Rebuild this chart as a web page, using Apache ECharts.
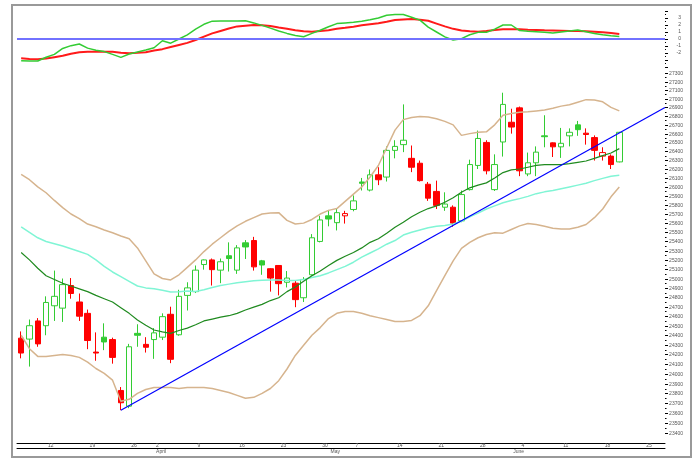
<!DOCTYPE html>
<html><head><meta charset="utf-8">
<script src="https://cdn.jsdelivr.net/npm/echarts@6/dist/echarts.min.js"></script>
<style>html,body{margin:0;padding:0;background:#fff}#c{width:697px;height:459px}</style>
</head><body><div id="c"></div>
<script>
// ---- categories (trading days, plus a few empty future days) ----
const dates = ['3/7','3/8','3/9','3/12','3/13','3/14','3/15','3/16','3/19','3/20','3/21','3/22','3/23','3/26','3/27','3/28',
'4/2','4/3','4/4','4/5','4/6','4/9','4/10','4/11','4/12','4/13','4/16','4/17','4/18','4/19','4/20','4/23','4/24','4/25','4/26','4/27','4/30',
'5/2','5/3','5/4','5/7','5/8','5/9','5/10','5/11','5/14','5/15','5/16','5/17','5/18','5/21','5/22','5/23','5/24','5/25','5/28','5/29','5/30','5/31',
'6/1','6/4','6/5','6/6','6/7','6/8','6/11','6/12','6/13','6/14','6/15','6/18','6/19','6/20',
'6/21','6/22','6/25','6/26','6/27'];
const weekStarts = ['3/12','3/19','3/26','4/2','4/9','4/16','4/23','4/30','5/7','5/14','5/21','5/28','6/4','6/11','6/18','6/25'];
const monthStarts = {'4/2':'April','5/2':'May','6/1':'June'};

// ---- price data ----
const open = [24370,24360,24550,24500,24710,24685,24925,24750,24630,24225,
24380,24355,23830,23670,24420,24305,24355,24380,24620,24405,
24820,24860,25150,25200,25090,25245,25090,25385,25410,25190,
25105,25140,24960,24950,24795,25040,25400,25680,25605,25680,
25750,26055,25965,26135,26110,26410,26475,26320,26265,26030,
25950,25775,25775,25625,25970,26240,26500,25970,26505,26730,
26895,26145,26270,26575,26495,26450,26575,26700,26605,26555,
26345,26345,26280];
const close = [24215,24500,24310,24745,24810,24935,24840,24600,24345,24215,
24330,24170,23705,24280,24400,24275,24425,24595,24150,24810,
24900,25090,25200,25095,25180,25215,25330,25340,25125,25145,
25005,24945,25005,24775,24990,25440,25635,25645,25715,25705,
25845,26040,26135,26080,26410,26455,26525,26220,26070,25875,
25795,25810,25600,25915,26250,26545,26180,26250,26935,26675,
26180,26270,26390,26565,26450,26490,26615,26645,26590,26410,
26385,26250,26615];
const low = [24160,24075,24280,24400,24550,24540,24785,24550,24255,24135,
24245,24105,23630,23650,24280,24220,24155,24350,24110,24395,
24660,24845,25095,24925,24950,25075,25050,25210,25085,25040,
24860,24820,24905,24695,24750,25030,25390,25565,25520,25595,
25730,25960,25950,26020,26060,26320,26390,26165,26060,25845,
25755,25735,25560,25610,25960,26200,26140,25955,26340,26600,
26120,26120,26120,26445,26335,26325,26455,26575,26475,26295,
26295,26200,26275];
const high = [24440,24565,24580,24810,25085,25000,25005,24840,24670,24430,
24525,24375,23865,24310,24515,24380,24475,24630,24700,24880,
24960,25140,25205,25215,25215,25390,25360,25415,25450,25200,
25110,25145,25080,24980,25015,25480,25680,25745,25755,25735,
25905,26100,26195,26220,26455,26525,26935,26465,26295,26055,
26070,25940,25795,25960,26305,26635,26525,26365,27070,26885,
26910,26385,26455,26810,26500,26665,26660,26745,26660,26580,
26445,26365,26620];

// ---- overlays ----
const bbUpper = [26140,26080,26000,25935,25850,25770,25700,25650,25590,25560,
25525,25495,25460,25430,25330,25190,25050,25000,24985,25040,
25120,25200,25290,25370,25440,25510,25570,25620,25660,25700,
25712,25715,25630,25590,25600,25640,25700,25740,25760,25840,
25920,26000,26110,26240,26440,26640,26760,26785,26795,26790,
26770,26740,26700,26580,26600,26615,26620,26700,26810,26830,
26845,26850,26860,26870,26890,26915,26930,26960,26990,26985,
26965,26900,26860];
const bbLower = [24400,24260,24180,24180,24190,24200,24190,24170,24120,24055,
24005,23935,23720,23740,23800,23840,23860,23860,23860,23850,
23860,23860,23860,23850,23830,23810,23780,23750,23760,23800,
23850,23930,24050,24190,24295,24400,24480,24575,24630,24650,
24650,24630,24605,24585,24565,24545,24545,24555,24605,24710,
24870,25030,25190,25325,25390,25440,25475,25495,25490,25530,
25570,25595,25585,25565,25545,25535,25535,25555,25585,25660,
25755,25890,26000];
const maGreen = [25280,25200,25110,25030,24990,24950,24920,24890,24860,24820,
24785,24750,24690,24630,24560,24505,24455,24435,24420,24450,
24475,24510,24550,24570,24590,24605,24630,24665,24695,24725,
24765,24795,24860,24910,24970,25030,25080,25140,25195,25240,
25280,25330,25390,25430,25490,25555,25610,25670,25720,25760,
25790,25830,25880,25940,25990,26020,26045,26100,26160,26190,
26200,26220,26240,26250,26250,26250,26260,26275,26290,26320,
26350,26380,26430];
const maCyan = [25560,25500,25440,25400,25375,25350,25320,25290,25260,25200,
25130,25070,25020,24970,24920,24900,24890,24875,24855,24860,
24868,24862,24880,24905,24925,24940,24955,24965,24975,24982,
24985,24983,24980,24980,24990,25010,25030,25060,25095,25130,
25175,25230,25275,25320,25370,25410,25470,25500,25525,25550,
25565,25575,25590,25620,25670,25710,25755,25790,25825,25850,
25870,25895,25925,25945,25960,25980,26000,26020,26040,26070,
26095,26120,26130];
// trendline anchors: [category position, price]
const trendX = [12, 77.5];
const trendY = [23630, 26900];

// ---- indicator panel ----
const indGreen = [-3.1,-3.15,-3.15,-2.6,-2.2,-1.35,-0.95,-0.71,-1.3,-1.62,
-1.8,-2.2,-2.62,-2.15,-1.85,-1.57,-1.25,-0.25,-0.6,0.0,
0.6,1.4,2.1,2.55,2.57,2.57,2.57,2.6,2.3,1.95,
1.55,1.15,0.8,0.5,0.33,0.8,1.25,1.75,2.2,2.3,
2.38,2.55,2.75,3.0,3.4,3.5,3.5,3.1,2.7,1.7,
1.0,0.3,-0.15,0.05,0.6,0.95,0.95,1.4,2.0,2.0,
1.2,1.1,1.05,0.95,0.85,1.0,1.15,1.3,1.05,0.8,
0.6,0.45,0.35];
const indRed = [-2.76,-2.85,-2.9,-2.8,-2.6,-2.4,-2.1,-1.9,-1.83,-1.81,
-1.81,-1.82,-1.95,-2.05,-1.98,-1.9,-1.65,-1.45,-1.15,-0.85,
-0.55,-0.15,0.33,0.8,1.15,1.5,1.8,1.9,2.0,1.95,
1.86,1.65,1.45,1.25,1.1,1.05,1.15,1.25,1.45,1.6,
1.76,1.95,2.1,2.25,2.45,2.7,2.8,2.86,2.75,2.6,
2.2,1.8,1.45,1.2,1.1,1.05,1.15,1.3,1.38,1.38,
1.38,1.33,1.29,1.25,1.22,1.19,1.16,1.14,1.1,1.05,
0.95,0.85,0.71];

// ---- tick labels ----
const priceTicks = [23400,23500,23600,23700,23800,23900,24000,24100,24200,24300,24400,24500,24600,24700,24800,24900,
25000,25100,25200,25300,25400,25500,25600,25700,25800,25900,26000,26100,26200,26300,26400,26500,26600,26700,26800,26900,
27000,27100,27200,27300];
const indTicks = [-2,-1,0,1,2,3];

const GREEN = '#33cc33', RED = '#ff0000';
const FONT = 'Liberation Sans, Arial, sans-serif';
const weekSet = new Set(weekStarts);

const candleData = open.map((o, i) => {
  const c = close[i];
  const ref = i > 0 ? close[i - 1] : o;
  const col = c >= ref ? GREEN : RED;
  const fill = c > o ? '#ffffff' : col;
  return { value: [o, c, low[i], high[i]],
    itemStyle: { color: fill, color0: fill, borderColor: col, borderColor0: col } };
});
const minorTicks = priceTicks.slice(1).map((v, i) => (v + priceTicks[i]) / 2);
const tickItems = priceTicks.map(v => [0, v, 1]).concat(minorTicks.map(v => [0, v, 0]));

const chart = echarts.init(document.getElementById('c'));
const lineS = (name, data, color, width, xi, yi, z) => ({
  name, type: 'line', data, xAxisIndex: xi, yAxisIndex: yi, symbol: 'none', silent: true, z: z || 3,
  lineStyle: { color, width }, itemStyle: { color }
});

chart.setOption({
  animation: false,
  backgroundColor: '#ffffff',
  textStyle: { fontFamily: FONT },
  grid: [
    { left: 17, right: 32, top: 11, height: 56 },
    { left: 17, right: 32, top: 68, bottom: 16 }
  ],
  xAxis: [
    { gridIndex: 0, type: 'category', data: dates, show: false },
    { gridIndex: 1, type: 'category', data: dates, position: 'bottom',
      axisLine: { lineStyle: { color: '#000', width: 1 } },
      axisTick: { inside: true, length: 2, alignWithLabel: true, interval: (i, v) => !weekSet.has(v), lineStyle: { color: '#000' } },
      axisLabel: { show: false }, splitLine: { show: false } },
    { gridIndex: 1, type: 'category', data: dates, position: 'bottom',
      axisLine: { show: false },
      axisTick: { length: 5, alignWithLabel: true, interval: (i, v) => weekSet.has(v), lineStyle: { color: '#000' } },
      axisLabel: { interval: (i, v) => weekSet.has(v), formatter: v => v.split('/')[1], fontSize: 5, color: '#555',
        align: 'left', margin: 0, padding: [0, 0, 0, 2], fontFamily: FONT } },
    { gridIndex: 1, type: 'category', data: dates, position: 'bottom', offset: 5,
      axisLine: { lineStyle: { color: '#000', width: 1 } },
      axisTick: { length: 7, alignWithLabel: true, interval: (i, v) => v in monthStarts, lineStyle: { color: '#000' } },
      axisLabel: { interval: (i, v) => v in monthStarts, formatter: v => monthStarts[v] || '', fontSize: 5, color: '#555',
        align: 'left', margin: 1, padding: [0, 0, 0, 2], fontFamily: FONT } },
    { gridIndex: 1, type: 'value', min: -0.5, max: 77.5, show: false }
  ],
  yAxis: [
    { gridIndex: 0, type: 'value', min: -4, max: 4, interval: 1, position: 'right',
      axisLine: { show: false }, splitLine: { show: false },
      axisTick: { show: true, length: 3, lineStyle: { color: '#000' } },
      minorTick: { show: true, splitNumber: 2, length: 1, lineStyle: { color: '#000' } },
      axisLabel: { formatter: v => indTicks.indexOf(v) >= 0 ? String(v) : '', fontSize: 5, color: '#555', align: 'right', margin: 16, fontFamily: FONT } },
    { gridIndex: 1, type: 'log', min: 23300, max: 27358, position: 'right',
      axisLine: { show: false }, axisTick: { show: false }, axisLabel: { show: false }, splitLine: { show: false } }
  ],
  series: [
    Object.assign(lineS('ind green', indGreen, GREEN, 1.5, 0, 0, 4), {
      markLine: { silent: true, symbol: ['none', 'none'], label: { show: false },
        lineStyle: { color: '#7272ff', width: 2, type: 'solid' }, data: [{ yAxis: 0 }] } }),
    lineS('ind red', indRed, '#ff1a1a', 2, 0, 0, 3),
    { name: 'price', type: 'candlestick', xAxisIndex: 1, yAxisIndex: 1, data: candleData, barWidth: 6,
      itemStyle: { borderWidth: 1 }, silent: true, z: 2 },
    lineS('bb upper', bbUpper, '#d6b48e', 1.5, 1, 1),
    lineS('bb lower', bbLower, '#d6b48e', 1.5, 1, 1),
    lineS('ma cyan', maCyan, '#80f5d5', 1.5, 1, 1),
    lineS('ma green', maGreen, '#1f8a1f', 1.2, 1, 1),
    lineS('trend', trendX.map((x, i) => [x, trendY[i]]), '#0000ff', 1.2, 4, 1, 5),
    { type: 'custom', xAxisIndex: 1, yAxisIndex: 1, data: tickItems, clip: false, silent: true, z: 6,
      encode: { x: 0, y: 1 },
      renderItem: (params, api) => {
        const v = api.value(1), major = api.value(2) === 1;
        const y = Math.round(api.coord([0, v])[1]) + 0.5;
        const x0 = params.coordSys.x + params.coordSys.width;
        const kids = [{ type: 'line', shape: { x1: x0, y1: y, x2: x0 + (major ? 3 : 1.5), y2: y }, style: { stroke: '#000', lineWidth: 1 } }];
        if (major) kids.push({ type: 'text', x: x0 + 18, y: y, style: { text: String(v), fontSize: 5, fill: '#555', align: 'right', verticalAlign: 'middle', fontFamily: FONT } });
        return { type: 'group', children: kids };
      } }
  ],
  graphic: [
    { type: 'rect', silent: true, z: 100, shape: { x: 12, y: 5, width: 679, height: 452 },
      style: { fill: 'none', stroke: '#999', lineWidth: 2 } }
  ]
});
</script></body></html>
